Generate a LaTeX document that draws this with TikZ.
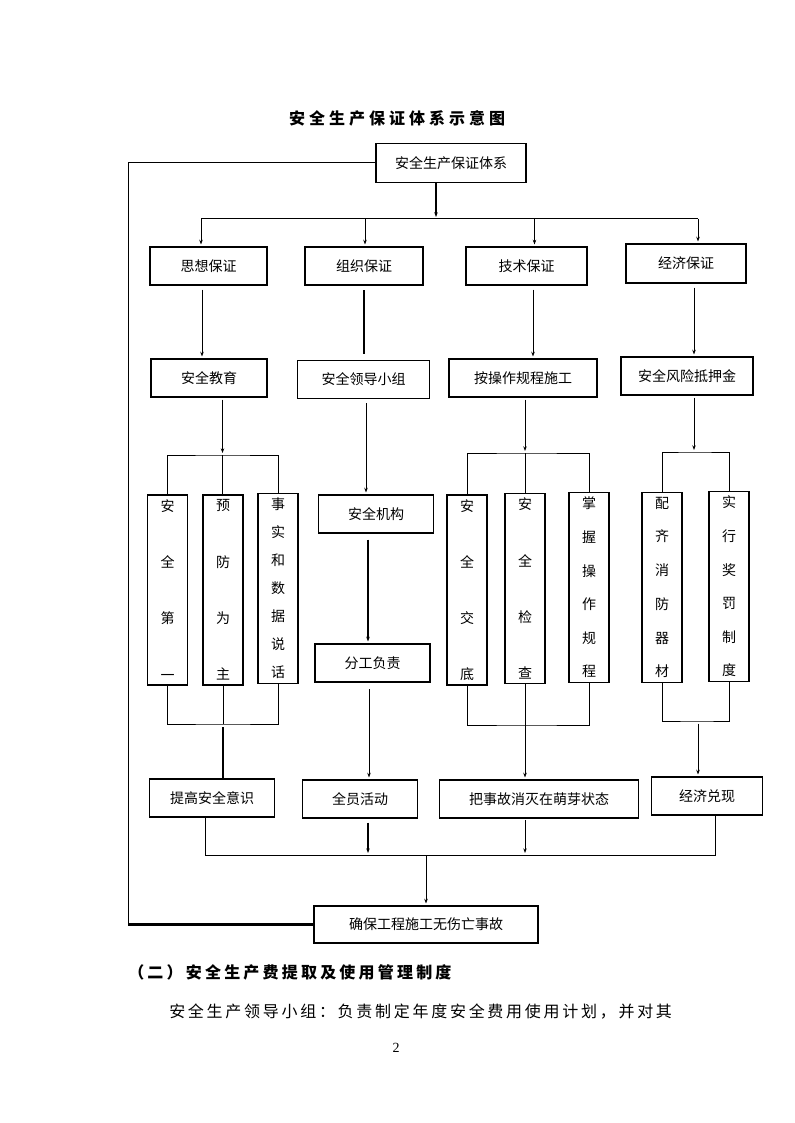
\documentclass[tikz,border=0pt]{standalone}
\usepackage{fontspec}
\setmainfont{Noto Sans CJK SC}
\newfontfamily\titlefont[LetterSpace=25]{Noto Sans CJK SC}
\newfontfamily\headfont[LetterSpace=20]{Noto Sans CJK SC}
\newfontfamily\parafont[LetterSpace=17]{Noto Sans CJK SC}
\newfontfamily\pagenumfont{Liberation Serif}
\usetikzlibrary{arrows.meta,positioning,calc}

% one character per line, spread over the tall boxes
\newcommand{\chbreak}{\par\vfill}
\newcommand{\vchars}[1]{\parbox[c][135pt][s]{1.3em}{\centering #1}}

\begin{document}
\begin{tikzpicture}[x=0.75pt,y=-0.75pt,
    box/.style={rectangle,draw,line width=0.8pt,inner sep=0pt,
                font=\fontsize{10.5pt}{12pt}\selectfont},
    boxsize/.style 2 args={minimum width=#1*0.75pt,minimum height=#2*0.75pt},
    vbox/.style={box,boxsize={40}{190}},
    line/.style={line width=0.75pt},
    heavy/.style={line width=1.8pt},
    tip/.style={-{Stealth[length=3.5pt,width=2.6pt]},shorten >=1.5pt},
    arr/.style={line,tip}
]
\useasboundingbox[fill=white] (0,0) rectangle (794,1123);

\node[font=\titlefont\bfseries\fontsize{12pt}{14pt}\selectfont] (title) at (397,118) {安全生产保证体系示意图};

\node[box,boxsize={150}{39}] (top) at (451,163) {安全生产保证体系};

\node[box,boxsize={117}{38}] (g1) at (208.5,266) {思想保证};
\node[box,boxsize={118}{38}] (g2) at (364,266) {组织保证};
\node[box,boxsize={121}{38}] (g3) at (526.5,266) {技术保证};
\node[box,boxsize={120}{39}] (g4) at (686,263.5) {经济保证};

\node[box,boxsize={116}{38}] (m1) at (209,378) {安全教育};
\node[box,boxsize={132}{38}] (m2) at (363.5,379.5) {安全领导小组};
\node[box,boxsize={148}{38}] (m3) at (523,378) {按操作规程施工};
\node[box,boxsize={132}{38}] (m4) at (687,376) {安全风险抵押金};

\node[vbox] (v1) at (167.5,590) {\vchars{安\chbreak 全\chbreak 第\chbreak 一}};
\node[vbox] (v2) at (223,590) {\vchars{预\chbreak 防\chbreak 为\chbreak 主}};
\node[vbox] (v3) at (278,588.5) {\vchars{事\chbreak 实\chbreak 和\chbreak 数\chbreak 据\chbreak 说\chbreak 话}};
\node[box,boxsize={115}{38}] (o1) at (376,514) {安全机构};
\node[box,boxsize={115}{38}] (o2) at (372.5,663) {分工负责};
\node[vbox] (v4) at (467,590) {\vchars{安\chbreak 全\chbreak 交\chbreak 底}};
\node[vbox] (v5) at (525,588.5) {\vchars{安\chbreak 全\chbreak 检\chbreak 查}};
\node[vbox] (v6) at (589,587.5) {\vchars{掌\chbreak 握\chbreak 操\chbreak 作\chbreak 规\chbreak 程}};
\node[vbox] (v7) at (662,587.5) {\vchars{配\chbreak 齐\chbreak 消\chbreak 防\chbreak 器\chbreak 材}};
\node[vbox] (v8) at (729,586.5) {\vchars{实\chbreak 行\chbreak 奖\chbreak 罚\chbreak 制\chbreak 度}};

\node[box,boxsize={125}{38}] (r1) at (212,798) {提高安全意识};
\node[box,boxsize={115}{38}] (r2) at (360,799) {全员活动};
\node[box,boxsize={199}{38}] (r3) at (539,799) {把事故消灭在萌芽状态};
\node[box,boxsize={111}{38}] (r4) at (707,796) {经济兑现};

\node[box,boxsize={224}{37}] (bottom) at (426,924.5) {确保工程施工无伤亡事故};

% top box down to the four guarantees
\coordinate (j0) at (436,219);
\draw[heavy,tip] (j0 |- top.south) -- (j0);
\draw[line] (201,0 |- j0) -- (698,0 |- j0);
\foreach \x/\n in {201/g1,365/g2,534.5/g3,698/g4}
    \draw[arr] (\x,0 |- j0) -- (\x,0 |- \n.north);

\foreach \x/\a/\b in {202/g1/m1,533/g3/m3,694/g4/m4}
    \draw[arr,shorten <=3pt] (\x,0 |- \a.south) -- (\x,0 |- \b.north);
\draw[heavy,shorten <=3.5pt,shorten >=4.5pt] (364,0 |- g2.south) -- (364,0 |- m2.north);

% second row down to the columns
\coordinate (j1) at (222.5,455);
\draw[arr,shorten <=1.5pt] (j1 |- m1.south) -- (j1);
\draw[line] (v1.north) |- (j1) -| (v3.north);
\draw[line] (j1) -- (j1 |- v2.north);

\draw[arr,shorten <=3pt] (366,0 |- m2.south) -- (366,0 |- o1.north);
\draw[heavy,tip,shorten <=4.5pt] (368,0 |- o1.south) -- (368,0 |- o2.north);

\coordinate (j2) at (525,453);
\draw[arr,shorten <=1.5pt] (j2 |- m3.south) -- (j2);
\draw[line] (v4.north) |- (j2) -| (v6.north);
\draw[line] (j2) -- (j2 |- v5.north);

\coordinate (j3) at (694,452);
\draw[arr,shorten <=1.5pt] (j3 |- m4.south) -- (j3);
\draw[line] (v7.north) |- (j3) -| (v8.north);

% columns down to the results
\coordinate (k1) at (223,724);
\draw[line] (v1.south) |- (k1) -| (v3.south);
\draw[line] (v2.south) -- (k1);
\draw[heavy,shorten <=2.5pt] (k1) -- (k1 |- r1.north);

\draw[arr,shorten <=5pt] (369,0 |- o2.south) -- (369,0 |- r2.north);

\coordinate (k2) at (525,725);
\draw[line] (v4.south) |- (k2) -| (v6.south);
\draw[line] (v5.south) -- (k2);
\draw[arr] (k2) -- (k2 |- r3.north);

\coordinate (k3) at (698,721);
\draw[line] (v7.south) |- (k3) -| (v8.south);
\draw[arr,shorten <=2pt] (k3) -- (k3 |- r4.north);

% results to the final goal
\coordinate (k4) at (426,855);
\draw[line] (205,0 |- r1.south) |- (k4) -| (715,0 |- r4.south);
\draw[heavy,tip,shorten <=3pt] (368,0 |- r2.south) -- (368,0 |- k4);
\draw[arr,shorten <=1pt] (525,0 |- r3.south) -- (525,0 |- k4);
\draw[arr] (k4) -- (bottom.north);

% feedback loop
\draw[line] (top.west) -- (128,0 |- top.west) -- (128,0 |- bottom.west);
\draw[heavy] (128,0 |- bottom.west) -- (bottom.west);

\node[anchor=west,inner sep=0pt,font=\headfont\bfseries\fontsize{12pt}{14pt}\selectfont] (heading) at (128,972) {（二）安全生产费提取及使用管理制度};
\node[anchor=west,inner sep=0pt,font=\parafont\fontsize{12pt}{14pt}\selectfont] (para) at (169,1012) {安全生产领导小组：负责制定年度安全费用使用计划，并对其};
\node[font=\pagenumfont\fontsize{10.5pt}{12pt}\selectfont] (pageno) at (396,1048) {2};
\end{tikzpicture}
\end{document}
